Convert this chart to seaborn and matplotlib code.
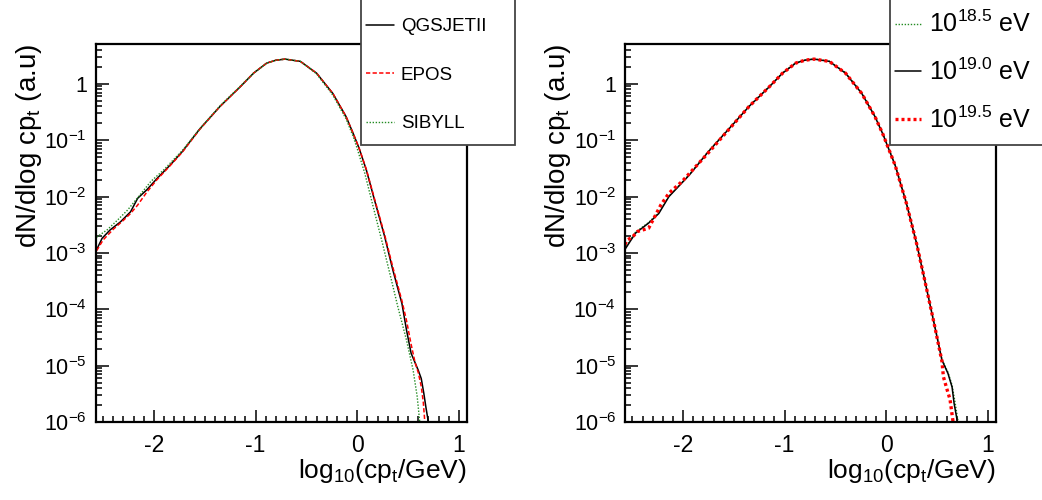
import matplotlib
matplotlib.use("Agg")
import math
import matplotlib.pyplot as plt
import seaborn as sns
from matplotlib.ticker import MultipleLocator, LogLocator, FixedLocator, FuncFormatter, NullFormatter
from matplotlib.patches import Rectangle
from matplotlib.lines import Line2D

# ---------------- data ----------------
# Left panel: hadronic interaction models
qgs_x = [-2.563, -2.51, -2.43, -2.33, -2.23, -2.16, -2.07, -1.97, -1.84, -1.72, -1.55, -1.35, -1.15,
         -1.02, -0.89, -0.80, -0.71, -0.56, -0.40, -0.24, -0.11, -0.04, 0.02, 0.09, 0.17, 0.27, 0.35,
         0.44, 0.485, 0.53, 0.60, 0.63, 0.655, 0.675, 0.70]
qgs_y = [1.15e-3, 1.82e-3, 2.57e-3, 3.55e-3, 5.37e-3, 9.33e-3, 1.32e-2, 2.09e-2, 3.63e-2, 6.31e-2,
         0.158, 0.398, 0.891, 1.55, 2.34, 2.63, 2.75, 2.51, 1.55, 0.676, 0.263, 0.132, 0.0708, 0.0295,
         8.71e-3, 1.95e-3, 5.01e-4, 1.26e-4, 4.27e-5, 1.66e-5, 8.32e-6, 5.89e-6, 3.24e-6, 1.86e-6, 1.0e-6]

epos_x = [-2.563, -2.50, -2.40, -2.30, -2.23, -2.16, -2.07, -1.97, -1.84, -1.72, -1.55, -1.35, -1.15,
          -1.02, -0.89, -0.80, -0.71, -0.56, -0.40, -0.24, -0.11, -0.04, 0.02, 0.09, 0.17, 0.27, 0.35,
          0.44, 0.485, 0.53, 0.57, 0.60, 0.63, 0.65, 0.665]
epos_y = [1.10e-3, 1.70e-3, 2.63e-3, 3.80e-3, 5.01e-3, 7.08e-3, 1.20e-2, 2.00e-2, 3.55e-2, 6.17e-2,
          0.155, 0.398, 0.891, 1.55, 2.34, 2.63, 2.75, 2.51, 1.55, 0.676, 0.263, 0.132, 0.0708, 0.0302,
          9.12e-3, 2.09e-3, 5.62e-4, 1.41e-4, 6.31e-5, 2.40e-5, 1.12e-5, 7.59e-6, 4.27e-6, 2.24e-6, 1.0e-6]

sib_x = [-2.563, -2.46, -2.36, -2.26, -2.16, -2.03, -1.90, -1.72, -1.55, -1.35, -1.15, -1.02, -0.89,
         -0.80, -0.71, -0.56, -0.40, -0.24, -0.11, -0.04, 0.0, 0.075, 0.157, 0.24, 0.32, 0.40, 0.485,
         0.55, 0.59, 0.615]
sib_y = [1.91e-3, 2.57e-3, 3.80e-3, 5.75e-3, 9.55e-3, 1.86e-2, 3.02e-2, 6.61e-2, 0.158, 0.407, 0.912,
         1.55, 2.34, 2.63, 2.75, 2.51, 1.51, 0.631, 0.240, 0.117, 0.0708, 0.0257, 6.61e-3, 1.70e-3,
         4.37e-4, 1.10e-4, 2.82e-5, 8.32e-6, 2.82e-6, 1.0e-6]

model_labels = ["QGSJETII", "EPOS", "SIBYLL"]

# Right panel: primary energies
e190_x = [-2.574, -2.47, -2.34, -2.24, -2.14, -1.94, -1.75, -1.55, -1.35, -1.15, -1.02, -0.89, -0.80,
          -0.71, -0.56, -0.40, -0.24, -0.11, -0.03, 0.09, 0.20, 0.30, 0.38, 0.48, 0.55, 0.61, 0.65,
          0.67, 0.70]
e190_y = [1.15e-3, 2.24e-3, 3.39e-3, 5.01e-3, 1.00e-2, 2.40e-2, 6.31e-2, 0.158, 0.398, 0.891, 1.55,
          2.34, 2.63, 2.75, 2.51, 1.55, 0.676, 0.263, 0.126, 0.0355, 7.59e-3, 1.48e-3, 3.31e-4,
          4.90e-5, 1.26e-5, 7.24e-6, 4.17e-6, 2.14e-6, 1.07e-6]

e195_x = [-2.574, -2.55, -2.50, -2.45, -2.34, -2.29, -2.22, -2.14, -2.01, -1.75, -1.55, -1.35, -1.15,
          -1.02, -0.89, -0.80, -0.71, -0.56, -0.40, -0.24, -0.11, -0.03, 0.09, 0.20, 0.30, 0.38, 0.48,
          0.55, 0.565, 0.60, 0.63, 0.66]
e195_y = [1.41e-3, 1.70e-3, 1.91e-3, 2.40e-3, 2.75e-3, 4.07e-3, 7.08e-3, 1.15e-2, 1.86e-2, 6.03e-2,
          0.155, 0.398, 0.891, 1.55, 2.34, 2.63, 2.75, 2.51, 1.55, 0.676, 0.263, 0.126, 0.0355,
          7.59e-3, 1.48e-3, 3.31e-4, 4.90e-5, 1.20e-5, 6.31e-6, 3.80e-6, 2.51e-6, 1.0e-6]

e185_x = [-2.574, -2.47, -2.34, -2.24, -2.14, -1.94, -1.75, -1.55, -1.35, -1.15, -1.02, -0.89, -0.80,
          -0.71, -0.56, -0.40, -0.24, -0.11, -0.03, 0.09, 0.20, 0.30, 0.38, 0.48, 0.55, 0.61, 0.65,
          0.68, 0.71]
e185_y = [1.20e-3, 2.34e-3, 3.47e-3, 5.25e-3, 1.02e-2, 2.45e-2, 6.46e-2, 0.162, 0.407, 0.900, 1.58,
          2.37, 2.66, 2.78, 2.53, 1.58, 0.69, 0.27, 0.129, 0.0363, 7.8e-3, 1.52e-3, 3.4e-4, 5.1e-5,
          1.3e-5, 7.6e-6, 4.5e-6, 2.2e-6, 1.0e-6]

energy_labels = [r"$10^{18.5}$ eV", r"$10^{19.0}$ eV", r"$10^{19.5}$ eV"]

x_ticks = [-2, -1, 0, 1]
y_ticks = [1e-6, 1e-5, 1e-4, 1e-3, 1e-2, 1e-1, 1]
x_label = r"log$_{10}$(cp$_{t}$/GeV)"
y_label = r"dN/dlog cp$_{t}$ (a.u)"

# ---------------- style ----------------
sns.set_style("white")
plt.rcParams["font.family"] = ["Liberation Sans", "DejaVu Sans"]
plt.rcParams["mathtext.fontset"] = "custom"
plt.rcParams["mathtext.rm"] = "Liberation Sans"
plt.rcParams["mathtext.it"] = "Liberation Sans"
plt.rcParams["mathtext.default"] = "regular"
plt.rcParams["text.color"] = "black"
plt.rcParams["axes.labelcolor"] = "black"

GREEN = "#238b23"
W, H = 1042, 500
fig = plt.figure(figsize=(W / 100, H / 100), dpi=100)
ax1 = fig.add_axes([96 / W, (H - 422) / H, (467 - 96) / W, (422 - 44) / H])
ax2 = fig.add_axes([625.3 / W, (H - 422) / H, (995.7 - 625.3) / W, (422 - 44) / H])


def ytick_fmt(v, pos):
    if abs(v - 1) < 1e-9:
        return "1"
    e = int(round(math.log10(v)))
    return r"$10^{%d}$" % e


for ax in (ax1, ax2):
    ax.set_yscale("log")
    ax.set_xlim(-2.57, 1.08)
    ax.set_ylim(1e-6, 5.1)
    ax.xaxis.set_major_locator(FixedLocator(x_ticks))
    ax.xaxis.set_minor_locator(MultipleLocator(0.1))
    ax.yaxis.set_major_locator(FixedLocator(y_ticks))
    ax.yaxis.set_minor_locator(LogLocator(base=10, subs=[2, 3, 4, 5, 6, 7, 8, 9], numticks=20))
    ax.yaxis.set_major_formatter(FuncFormatter(ytick_fmt))
    ax.yaxis.set_minor_formatter(NullFormatter())
    ax.xaxis.set_major_formatter(FuncFormatter(lambda v, p: "%d" % v))
    ax.tick_params(axis="both", which="both", direction="in", top=False, right=False,
                   bottom=True, left=True, colors="black", width=1.1)
    ax.tick_params(axis="x", which="major", length=8.5, pad=9, labelsize=16.5)
    ax.tick_params(axis="x", which="minor", length=4.5)
    ax.tick_params(axis="y", which="major", length=9, pad=6.5, labelsize=15.5)
    ax.tick_params(axis="y", which="minor", length=4.5)
    for s in ax.spines.values():
        s.set_linewidth(1.6)
        s.set_color("black")
    ax.set_xlabel(x_label, fontsize=19, loc="right")
    ax.set_ylabel(y_label, fontsize=20, loc="top")
    ax.xaxis.set_label_coords(1.0, -0.093)
    ax.yaxis.set_label_coords(-0.14, 1.0)

# left panel curves
sns.lineplot(x=qgs_x, y=qgs_y, ax=ax1, sort=False, estimator=None, color="black", lw=1.1)
sns.lineplot(x=epos_x, y=epos_y, ax=ax1, sort=False, estimator=None, color="red", lw=1.1,
             linestyle=(0, (2.8, 1.5)))
sns.lineplot(x=sib_x, y=sib_y, ax=ax1, sort=False, estimator=None, color=GREEN, lw=1.0,
             linestyle=(0, (1, 1.2)))

# right panel curves
sns.lineplot(x=e185_x, y=e185_y, ax=ax2, sort=False, estimator=None, color=GREEN, lw=1.0,
             linestyle=(0, (1, 1.2)))
sns.lineplot(x=e190_x, y=e190_y, ax=ax2, sort=False, estimator=None, color="black", lw=1.1)
sns.lineplot(x=e195_x, y=e195_y, ax=ax2, sort=False, estimator=None, color="red", lw=2.4,
             linestyle=(0, (0.9, 0.9)))

# legend frames (figure level, above axes)
for (x0, x1) in [(361, 515), (890, 1046)]:
    r = Rectangle((x0 / W, (H - 145) / H), (x1 - x0) / W, 150 / H, transform=fig.transFigure,
                  facecolor="white", edgecolor="#444444", lw=1.3, zorder=9)
    fig.patches.append(r)

h1 = [Line2D([], [], color="black", lw=1.1),
      Line2D([], [], color="red", lw=1.1, linestyle=(0, (2.8, 1.5))),
      Line2D([], [], color=GREEN, lw=1.0, linestyle=(0, (1, 1.2)))]
leg1 = fig.legend(h1, model_labels, loc="upper left", bbox_to_anchor=(366 / W, 1 - 18 / H),
                  bbox_transform=fig.transFigure, frameon=False, fontsize=13.5,
                  handlelength=1.5, handletextpad=0.35, labelspacing=1.68, borderpad=0,
                  borderaxespad=0, labelcolor="black")
leg1.set_zorder(10)

h2 = [Line2D([], [], color=GREEN, lw=1.0, linestyle=(0, (1, 1.2))),
      Line2D([], [], color="black", lw=1.1),
      Line2D([], [], color="red", lw=2.4, linestyle=(0, (0.9, 0.9)))]
leg2 = fig.legend(h2, energy_labels, loc="upper left", bbox_to_anchor=(895 / W, 1 - 11 / H),
                  bbox_transform=fig.transFigure, frameon=False, fontsize=18,
                  handlelength=1.05, handletextpad=0.3, labelspacing=0.85, borderpad=0,
                  borderaxespad=0, labelcolor="black")
leg2.set_zorder(10)

fig.savefig("out.png", dpi=100, facecolor="white")
